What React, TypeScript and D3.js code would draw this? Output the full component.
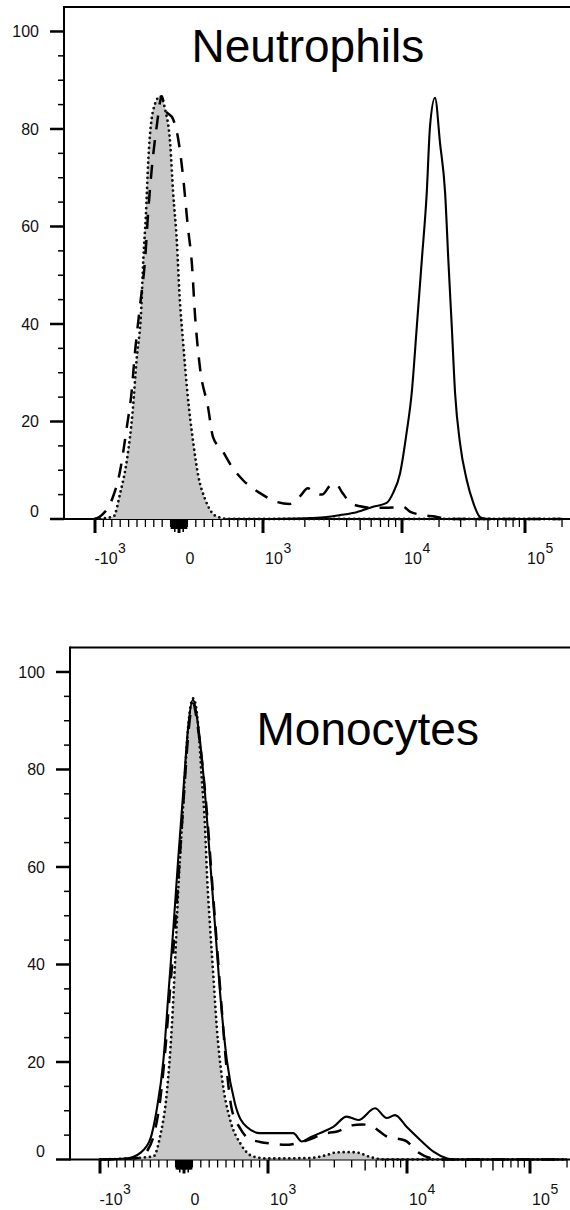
import React, { useEffect, useRef } from "react";
import * as d3 from "d3";

// ---- Neutrophils ----
// isotype control (grey fill, dotted outline)
const neutIsoX = [-1000, -780, -700, -620, -550, -505, -450, -425, -395, -365, -305, -225, -165, -105, -70, -25, 5, 50, 100, 170, 230, 310, 450, 600, 1000, 3000, 10000, 100000, 200000];
const neutIsoY = [0, 0.5, 5.3, 12.1, 22.4, 32.6, 42.9, 53.2, 62, 73.7, 84, 86.7, 84, 77, 67, 56.7, 46.3, 36, 25.9, 15.6, 8.8, 4.1, 0.5, 0, 0, 0, 0, 0, 0];
// dashed sample
const neutDashX = [-1000, -920, -800, -700, -620, -565, -525, -465, -405, -365, -325, -265, -205, -165, -70, -10, 50, 105, 155, 190, 250, 345, 405, 510, 630, 760, 965, 1260, 1560, 1850, 2100, 2370, 2660, 3030, 3350, 3700, 4230, 4990, 6080, 7550, 8910, 10200, 11600, 14000, 18500, 24500, 100000, 200000];
const neutDashY = [0, 0.8, 3.9, 10, 19, 25.9, 34, 43.6, 53, 63.4, 71.7, 80.6, 86.7, 84, 82, 78, 70, 60, 52, 42, 31, 23, 16.8, 14.2, 10.7, 8, 5.3, 3.5, 3.1, 4.7, 6.3, 5.3, 5, 6.8, 7.2, 5.5, 3.4, 2.6, 2.3, 2.3, 2.4, 2.5, 1.5, 0.9, 0.5, 0, 0, 0];
// solid sample
const neutSolidX = [1000, 2180, 2870, 3580, 4720, 6190, 7760, 8620, 9690, 10900, 12000, 13200, 14500, 15900, 16900, 18550, 20400, 22400, 23800, 25400, 27000, 29600, 33600, 38000, 43100, 48800, 200000];
const neutSolidY = [0, 0.2, 0.4, 0.8, 1.4, 2.5, 3.3, 5.3, 9.4, 17.7, 25.9, 39.5, 53.2, 67, 80.6, 86.4, 77, 67, 53.2, 39.4, 25.9, 15.6, 8, 3.3, 0.4, 0, 0];

// ---- Monocytes ----
const monoIsoX = [-1000, -365, -285, -205, -145, -105, -70, -25, 10, 50, 110, 170, 210, 250, 275, 310, 350, 390, 450, 550, 670, 825, 1000, 2000, 2640, 3030, 3480, 4000, 4590, 5180, 5890, 7000, 200000];
const monoIsoY = [0, 0.6, 4.7, 13.6, 27.2, 40.9, 54.7, 68.3, 78.5, 88.8, 94.6, 88.8, 78.5, 68.3, 58, 47.8, 37.5, 27.2, 17, 8.1, 3.3, 0.6, 0.2, 0.3, 0.9, 1.4, 1.5, 1.5, 1.3, 0.7, 0.25, 0, 0];
const monoDashX = [-1000, -550, -430, -345, -285, -225, -165, -105, -50, 0, 55, 105, 170, 190, 270, 330, 390, 450, 500, 570, 665, 760, 905, 1120, 1330, 1700, 2070, 2450, 3190, 4020, 4750, 5600, 7180, 9690, 12300, 15400, 18500, 200000];
const monoDashY = [0, 0.3, 2, 6, 12, 22, 35, 48, 62, 75, 88, 93.5, 88, 85.4, 71.7, 58, 44.4, 30.7, 20, 10.2, 6.5, 4.4, 3.6, 3.2, 3.0, 3.5, 4.3, 5.2, 5.8, 7.0, 7.2, 6.8, 4.7, 3.9, 1.5, 0.3, 0, 0];
const monoSolidX = [-1000, -680, -525, -405, -325, -245, -185, -125, -70, -10, 50, 105, 170, 250, 310, 370, 430, 510, 605, 745, 905, 1220, 1520, 1750, 2060, 2500, 2950, 3680, 4470, 5890, 7150, 8200, 9930, 12800, 16400, 21000, 23700, 200000];
const monoSolidY = [0, 0.2, 1.3, 4, 10.2, 20.4, 34.1, 47.8, 61.4, 75.1, 88.8, 94.3, 88.8, 75.1, 61.4, 47.8, 34.1, 20.4, 11.6, 6.7, 5.4, 5.4, 5.4, 3.7, 4.7, 5.7, 6.7, 8.8, 8.1, 10.5, 8.5, 9.1, 6.7, 4, 1.6, 0.25, 0, 0];

// ---- axes ----
const yMajor = [0, 20, 40, 60, 80, 100];
const yMinor = [5, 10, 15, 25, 30, 35, 45, 50, 55, 65, 70, 75, 85, 90, 95];
const xMajor = [-1000, 0, 1000, 10000, 100000];
const xMid = [5000, 50000];
const xNearZero = [...d3.range(-90, 0, 10), ...d3.range(10, 100, 10)];
const xMinor = [
  ...d3.range(-900, -99, 100),
  ...d3.range(100, 1000, 100),
  2000, 3000, 4000, 6000, 7000, 8000, 9000,
  20000, 30000, 40000, 60000, 70000, 80000, 90000,
  200000,
];
const xLabels = [
  { v: -1000, base: "-10", sup: "3" },
  { v: 0, base: "0", sup: "" },
  { v: 1000, base: "10", sup: "3" },
  { v: 10000, base: "10", sup: "4" },
  { v: 100000, base: "10", sup: "5" },
];

const FONT = "'Liberation Sans', Arial, sans-serif";

// linear between -10^3 and 10^3, log outside (biexponential-like display)
const biex = (v: number) =>
  Math.abs(v) <= 1000 ? v / 1000 : Math.sign(v) * (1 + Math.log10(Math.abs(v) / 1000));

const xScale = d3.scaleLinear().domain([-1, 0, 1, 2, 3]).range([95, 179, 263, 402, 525]);
const yScale = d3.scaleLinear().domain([0, 105]).range([519, 7.1]);

const panels = [
  {
    dx: 0, dy: 0, axisX: 64, title: "Neutrophils", titleX: 191.5, titleY: 62,
    iso: [neutIsoX, neutIsoY], dash: [neutDashX, neutDashY], solid: [neutSolidX, neutSolidY],
  },
  {
    dx: 5, dy: 640.5, axisX: 65, title: "Monocytes", titleX: 251.5, titleY: 104.5,
    iso: [monoIsoX, monoIsoY], dash: [monoDashX, monoDashY], solid: [monoSolidX, monoSolidY],
  },
];

const drawPanel = (svg: any, cfg: any) => {
  const g = svg.append("g").attr("transform", `translate(${cfg.dx},${cfg.dy})`);
  const x = (v: number) => xScale(biex(v));
  const y = yScale;
  const ax = cfg.axisX;
  const y0 = y(0);
  const yTop = y(105);

  // frame + axis lines
  g.append("line").attr("x1", ax).attr("x2", 600).attr("y1", yTop).attr("y2", yTop)
    .attr("stroke", "#000").attr("stroke-width", 2);
  g.append("line").attr("x1", ax).attr("x2", ax).attr("y1", yTop - 1).attr("y2", y0 + 1)
    .attr("stroke", "#000").attr("stroke-width", 2);
  g.append("line").attr("x1", ax).attr("x2", 600).attr("y1", y0).attr("y2", y0)
    .attr("stroke", "#000").attr("stroke-width", 2);

  // y ticks
  g.selectAll(".ymin").data(yMinor).enter().append("line")
    .attr("x1", ax - 6).attr("x2", ax).attr("y1", (d) => y(d)).attr("y2", (d) => y(d))
    .attr("stroke", "#000").attr("stroke-width", 1.5);
  g.selectAll(".ymaj").data(yMajor).enter().append("line")
    .attr("x1", ax - 14).attr("x2", ax).attr("y1", (d) => y(d)).attr("y2", (d) => y(d))
    .attr("stroke", "#000").attr("stroke-width", 2.5);
  g.selectAll(".ylab").data(yMajor).enter().append("text")
    .attr("x", ax - 25)
    .attr("y", (d) => y(d) + (d === 0 ? -8 : 0))
    .attr("dy", "0.36em")
    .attr("text-anchor", "end")
    .attr("font-family", FONT).attr("font-size", 16).attr("fill", "#111")
    .text((d) => d);

  // x ticks
  g.selectAll(".xmin").data(xMinor).enter().append("line")
    .attr("x1", (d) => x(d)).attr("x2", (d) => x(d)).attr("y1", y0).attr("y2", y0 + 8)
    .attr("stroke", "#000").attr("stroke-width", 1.3);
  g.selectAll(".xzero").data(xNearZero).enter().append("line")
    .attr("x1", (d) => x(d)).attr("x2", (d) => x(d)).attr("y1", y0).attr("y2", (d) => y0 + (Math.abs(d) === 50 ? 13 : 10))
    .attr("stroke", "#000").attr("stroke-width", 1.6);
  g.selectAll(".xmid").data(xMid).enter().append("line")
    .attr("x1", (d) => x(d)).attr("x2", (d) => x(d)).attr("y1", y0).attr("y2", y0 + 11)
    .attr("stroke", "#000").attr("stroke-width", 1.4);
  g.selectAll(".xmaj").data(xMajor).enter().append("line")
    .attr("x1", (d) => x(d)).attr("x2", (d) => x(d)).attr("y1", y0).attr("y2", y0 + 14)
    .attr("stroke", "#000").attr("stroke-width", 3);

  xLabels.forEach((l) => {
    const cx = x(l.v) + 11;
    const t = g.append("text")
      .attr("x", cx).attr("y", y0 + 45)
      .attr("text-anchor", "middle")
      .attr("font-family", FONT).attr("font-size", 16).attr("fill", "#111")
      .text(l.base);
    if (l.sup) {
      const w = (t.node() as SVGTextElement).getComputedTextLength();
      g.append("text")
        .attr("x", cx + w / 2 + 0.5).attr("y", y0 + 34)
        .attr("font-family", FONT).attr("font-size", 14).attr("fill", "#111")
        .text(l.sup);
    }
  });

  // histograms
  const line = d3.line<[number, number]>()
    .x((d) => x(d[0])).y((d) => y(d[1])).curve(d3.curveMonotoneX);
  const area = d3.area<[number, number]>()
    .x((d) => x(d[0])).y0(y0).y1((d) => y(d[1])).curve(d3.curveMonotoneX);

  const iso = d3.zip(cfg.iso[0], cfg.iso[1]) as [number, number][];
  const dash = d3.zip(cfg.dash[0], cfg.dash[1]) as [number, number][];
  const solid = d3.zip(cfg.solid[0], cfg.solid[1]) as [number, number][];

  g.append("path").attr("d", area(iso)).attr("fill", "#c8c8c8");
  g.append("path").attr("d", line(iso)).attr("fill", "none")
    .attr("stroke", "#111").attr("stroke-width", 2.8)
    .attr("stroke-dasharray", "0 5").attr("stroke-linecap", "round");
  g.append("path").attr("d", line(dash)).attr("fill", "none")
    .attr("stroke", "#000").attr("stroke-width", 2.5)
    .attr("stroke-dasharray", "14 11");
  g.append("path").attr("d", line(solid)).attr("fill", "none")
    .attr("stroke", "#000").attr("stroke-width", 2.1);

  // title
  g.append("text")
    .attr("x", cfg.titleX).attr("y", cfg.titleY)
    .attr("font-family", FONT).attr("font-size", 46).attr("fill", "#000")
    .text(cfg.title);
};

const App = () => {
  const svgRef = useRef<SVGSVGElement>(null);

  useEffect(() => {
    if (!svgRef.current) return;
    const svg = d3.select(svgRef.current);
    svg.selectAll("*").remove();
    svg.append("rect").attr("width", 570).attr("height", 1210).attr("fill", "#fff");
    panels.forEach((p) => drawPanel(svg, p));
  }, []);

  return (
    <svg
      ref={svgRef}
      width={570}
      height={1210}
      style={{ position: "absolute", left: 0, top: 0 }}
    ></svg>
  );
};

export default App;
